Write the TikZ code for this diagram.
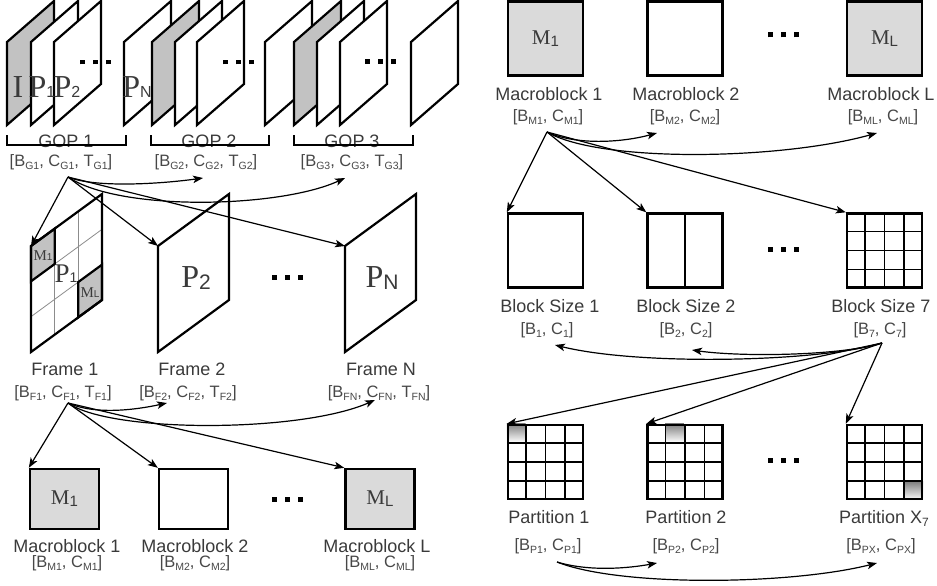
\documentclass[tikz,border=0pt]{standalone}
\usepackage{fontspec}
\setmainfont{Liberation Sans}
\newfontfamily\serf{Liberation Serif}
\usetikzlibrary{arrows.meta,calc,backgrounds}
\definecolor{shade}{HTML}{C2C2C2}
\definecolor{shadelt}{HTML}{DADADA}
\definecolor{txt}{HTML}{3A3A3A}
\definecolor{txtlt}{HTML}{474747}
\definecolor{fgray}{HTML}{8C8C8C}
\newcommand\sbs[3][0pt]{\raisebox{-#1}{\fontsize{#2}{#2}\selectfont #3}}
\newcommand\psb[1]{\sbs[3pt]{10.5}{#1}}
\newcommand\threedots{\rule{5pt}{5pt}\hspace{8pt}\rule{5pt}{5pt}\hspace{8pt}\rule{5pt}{5pt}}
\tikzset{
  frm/.style={draw=black,line width=2.2pt,fill=white},
  blk/.style={draw=black,line width=2.4pt,minimum width=75pt,minimum height=74pt,inner sep=0pt,fill=white,
    font=\fontsize{21}{21}\selectfont,text=txt},
  blkl/.style={blk,minimum width=69pt,minimum height=60pt},
  gridl/.style={line width=1.4pt},
  fgrid/.style={draw=fgray,line width=0.8pt},
  arr/.style={-{Stealth[length=10pt,width=7.5pt,inset=2.5pt]},line width=1.2pt},
  brk/.style={line width=2pt},
  lbl/.style={font=\fontsize{18}{18}\selectfont,text=txt,anchor=base,inner sep=0pt},
  prm/.style={font=\fontsize{16.5}{17}\selectfont,text=txtlt,anchor=base,inner sep=0pt},
  big/.style={font=\fontsize{32}{32}\selectfont,text=txt,anchor=base,inner sep=0pt},
  ellip/.style={inner sep=0pt},
}

\begin{document}
\begin{tikzpicture}[x=1pt,y=-1pt]
  \useasboundingbox (0,0) rectangle (937,586);
  % GOP row
  \foreach \l/\c in {7/shade,31/white,54/white,124/white,152/shade,175/white,197/white,265/white,294/shade,317/white,340/white,411/white}
    \draw[frm,fill=\c] (\l,42) -- ++(0,83) -- ++(47,-41) -- ++(0,-83) -- cycle;
  \node[big] (ilet) at (18,97) {{\serf I}};
  \node[big] (p1let) at (42,97) {{\serf P}\sbs{16}{1}};
  \node[big] (p2let) at (67,97) {{\serf P}\sbs{16}{2}};
  \node[big] (pnlet) at (137,97) {{\serf P}\sbs{16}{N}};
  \node[ellip] (gd1) at (95,62) {\threedots};
  \node[ellip] (gd2) at (238,62) {\threedots};
  \node[ellip] (gd3) at (380,61) {\threedots};
  \node[lbl] (gop1) at (66,147) {GOP 1};
  \node[lbl] (gop2) at (209,147) {GOP 2};
  \node[lbl] (gop3) at (352,147) {GOP 3};
  \draw[brk] (7,135) -- (7,145) -- (126,145) -- (126,135);
  \draw[brk] (151,135) -- (151,145) -- (269,145) -- (269,135);
  \draw[brk] (294,135) -- (294,145) -- (413,145) -- (413,135);
  \node[prm] (gp1) at (61,166) {[B\psb{G1}, C\psb{G1}, T\psb{G1}]};
  \node[prm] (gp2) at (206,166) {[B\psb{G2}, C\psb{G2}, T\psb{G2}]};
  \node[prm] (gp3) at (352,166) {[B\psb{G3}, C\psb{G3}, T\psb{G3}]};

  % frames
  \begin{scope}[shift={(31,246)},x={(71pt,52pt)},y={(0pt,-106pt)}]
    \fill[white] (0,0) -- (1,0) -- (1,1) -- (0,1) -- cycle;
    \foreach \k in {1,2} {
      \draw[fgrid] (\k/3,0) -- (\k/3,1);
      \draw[fgrid] (0,\k/3) -- (1,\k/3);
    }
    \filldraw[frm,fill=shade] (0,0) -- (1/3,0) -- (1/3,1/3) -- (0,1/3) -- cycle;
    \filldraw[frm,fill=shade] (2/3,2/3) -- (1,2/3) -- (1,1) -- (2/3,1) -- cycle;
    \draw[frm,fill=none] (0,0) -- (1,0) -- (1,1) -- (0,1) -- cycle;
    \coordinate (f1) at (0,0);
  \end{scope}
  \draw[frm] (158,246) -- ++(0,106) -- ++(71,-52) -- ++(0,-106) -- cycle;
  \coordinate (f2) at (158,246);
  \draw[frm] (345,246) -- ++(0,106) -- ++(71,-52) -- ++(0,-106) -- cycle;
  \coordinate (fn) at (345,246);
  \node[big,font=\fontsize{27}{27}\selectfont] (fp1) at (66,282) {{\serf P}\sbs{14}{1}};
  \node[big,font=\fontsize{15}{15}\selectfont] (fm1) at (43,260) {{\serf M}\sbs{10}{1}};
  \node[big,font=\fontsize{15}{15}\selectfont] (fml) at (90,297) {{\serf M}\sbs{10}{L}};
  \node[big] (fp2) at (196,287) {{\serf P}\sbs[2pt]{21}{2}};
  \node[big] (fpn) at (382,287) {{\serf P}\sbs[2pt]{21}{N}};
  \node[ellip] (fd) at (287,277) {\threedots};
  \node[lbl] (fr1) at (65,375) {Frame 1};
  \node[lbl] (fr2) at (192,375) {Frame 2};
  \node[lbl] (frn) at (381,375) {Frame N};
  \node[prm] (fq1) at (63,397) {[B\psb{F1}, C\psb{F1}, T\psb{F1}]};
  \node[prm] (fq2) at (188,397) {[B\psb{F2}, C\psb{F2}, T\psb{F2}]};
  \node[prm] (fqn) at (379,397) {[B\psb{FN}, C\psb{FN}, T\psb{FN}]};

  % macroblocks, left
  \node[blkl,fill=shadelt] (mbl1) at (64.5,499) {{\serf M}\sbs[2pt]{15}{1}};
  \node[blkl] (mbl2) at (193.5,499) {};
  \node[blkl,fill=shadelt] (mbll) at (380,499) {{\serf M}\sbs[2pt]{15}{L}};
  \node[ellip] (md) at (287,499) {\threedots};
  \node[lbl] (ml1) at (67,552) {Macroblock 1};
  \node[lbl] (ml2) at (195,552) {Macroblock 2};
  \node[lbl] (mll) at (377,552) {Macroblock L};
  \node[prm] (mq1) at (67,567) {[B\psb{M1}, C\psb{M1}]};
  \node[prm] (mq2) at (195,567) {[B\psb{M2}, C\psb{M2}]};
  \node[prm] (mql) at (380,567) {[B\psb{ML}, C\psb{ML}]};

  % macroblocks, right
  \node[blk,fill=shadelt] (mbr1) at (545.5,38.5) {{\serf M}\sbs[2pt]{15}{1}};
  \node[blk] (mbr2) at (685,38.5) {};
  \node[blk,fill=shadelt] (mbrl) at (884.5,38.5) {{\serf M}\sbs[2pt]{15}{L}};
  \node[ellip] (rd) at (783,35) {\threedots};
  \node[lbl] (mr1) at (549,100) {Macroblock 1};
  \node[lbl] (mr2) at (686,100) {Macroblock 2};
  \node[lbl] (mrl) at (881,100) {Macroblock L};
  \node[prm] (rq1) at (548,121.5) {[B\psb{M1}, C\psb{M1}]};
  \node[prm] (rq2) at (685,121.5) {[B\psb{M2}, C\psb{M2}]};
  \node[prm] (rql) at (883,121.5) {[B\psb{ML}, C\psb{ML}]};

  % block sizes
  \node[blk] (bs1) at (545.5,250.5) {};
  \node[blk] (bs2) at (685,250.5) {};
  \node[blk] (bs7) at (884.5,250.5) {};
  \draw[gridl] (bs2.north) -- (bs2.south);
  \foreach \k in {1,2,3} {
    \draw[gridl] ($(bs7.north west)!\k/4!(bs7.north east)$) -- ($(bs7.south west)!\k/4!(bs7.south east)$);
    \draw[gridl] ($(bs7.north west)!\k/4!(bs7.south west)$) -- ($(bs7.north east)!\k/4!(bs7.south east)$);
  }
  \node[ellip] (bd) at (783,249) {\threedots};
  \node[lbl] (bl1) at (550,312.5) {Block Size 1};
  \node[lbl] (bl2) at (686,312.5) {Block Size 2};
  \node[lbl] (bl7) at (881,312.5) {Block Size 7};
  \node[prm] (bq1) at (547,334) {[B\psb{1}, C\psb{1}]};
  \node[prm] (bq2) at (686,334) {[B\psb{2}, C\psb{2}]};
  \node[prm] (bq7) at (880,334) {[B\psb{7}, C\psb{7}]};

  % partitions
  \node[blk,fill=none] (pt1) at (545.5,462) {};
  \node[blk,fill=none] (pt2) at (685,462) {};
  \node[blk,fill=none] (ptx) at (884.5,462) {};
  \begin{scope}[on background layer]
    \fill[shade] (pt1.north west) rectangle ($(pt1.north west)+(18.75,18.5)$);
    \fill[shade] ($(pt2.north west)+(18.75,0)$) rectangle ($(pt2.north west)+(37.5,18.5)$);
    \fill[shade] ($(ptx.south east)+(-18.75,-18.5)$) rectangle (ptx.south east);
  \end{scope}
  \foreach \p in {pt1,pt2,ptx}
    \foreach \k in {1,2,3} {
      \draw[gridl] ($(\p.north west)!\k/4!(\p.north east)$) -- ($(\p.south west)!\k/4!(\p.south east)$);
      \draw[gridl] ($(\p.north west)!\k/4!(\p.south west)$) -- ($(\p.north east)!\k/4!(\p.south east)$);
    }
  \node[ellip] (pd) at (783,460) {\threedots};
  \node[lbl] (pl1) at (549,523) {Partition 1};
  \node[lbl] (pl2) at (686,523) {Partition 2};
  \node[lbl] (plx) at (884,523) {Partition X\sbs[3pt]{12}{7}};
  \node[prm] (pq1) at (548,550) {[B\psb{P1}, C\psb{P1}]};
  \node[prm] (pq2) at (686,550) {[B\psb{P2}, C\psb{P2}]};
  \node[prm] (pqx) at (881,550) {[B\psb{PX}, C\psb{PX}]};

  % connectors
  \coordinate (gsrc) at (68,177);
  \coordinate (g2t) at (203,178);
  \coordinate (g3t) at (345,178);
  \draw[arr] (gsrc) -- (f1);
  \draw[arr] (gsrc) -- (f2);
  \draw[arr] (gsrc) -- (fn);
  \draw[arr] (gsrc) .. controls (95,188) and (160,184) .. (g2t);
  \draw[arr] (gsrc) .. controls (120,212) and (280,208) .. (g3t);

  \coordinate (fsrc) at (68,403);
  \coordinate (f2t) at (167,403);
  \coordinate (fnt) at (375,400);
  \draw[arr] (fsrc) -- (mbl1.north west);
  \draw[arr] (fsrc) -- (mbl2.north west);
  \draw[arr] (fsrc) -- (mbll.north west);
  \draw[arr] (fsrc) .. controls (95,415) and (135,410) .. (f2t);
  \draw[arr] (fsrc) .. controls (110,433) and (300,433) .. (fnt);

  \coordinate (msrc) at (547,132);
  \coordinate (m2t) at (657,133);
  \coordinate (mlt) at (877,133);
  \draw[arr] (msrc) -- (bs1.north west);
  \draw[arr] (msrc) -- (bs2.north west);
  \draw[arr] (msrc) -- (bs7.north west);
  \draw[arr] (msrc) .. controls (575,145) and (620,143) .. (m2t);
  \draw[arr] (msrc) .. controls (600,163) and (780,160) .. (mlt);

  \coordinate (bsrc) at (882,343);
  \coordinate (b1t) at (555,345);
  \coordinate (b2t) at (692,350);
  \draw[arr] (bsrc) -- (pt1.north west);
  \draw[arr] (bsrc) -- (pt2.north west);
  \draw[arr] (bsrc) -- (ptx.north west);
  \draw[arr] (bsrc) .. controls (820,362) and (640,366) .. (b1t);
  \draw[arr] (bsrc) .. controls (840,356) and (740,357) .. (b2t);

  \coordinate (psrc) at (557,562);
  \coordinate (p2t) at (657,563);
  \coordinate (pxt) at (877,563);
  \draw[arr] (psrc) .. controls (590,572) and (630,568) .. (p2t);
  \draw[arr] (psrc) .. controls (620,587) and (790,585) .. (pxt);
\end{tikzpicture}
\end{document}
